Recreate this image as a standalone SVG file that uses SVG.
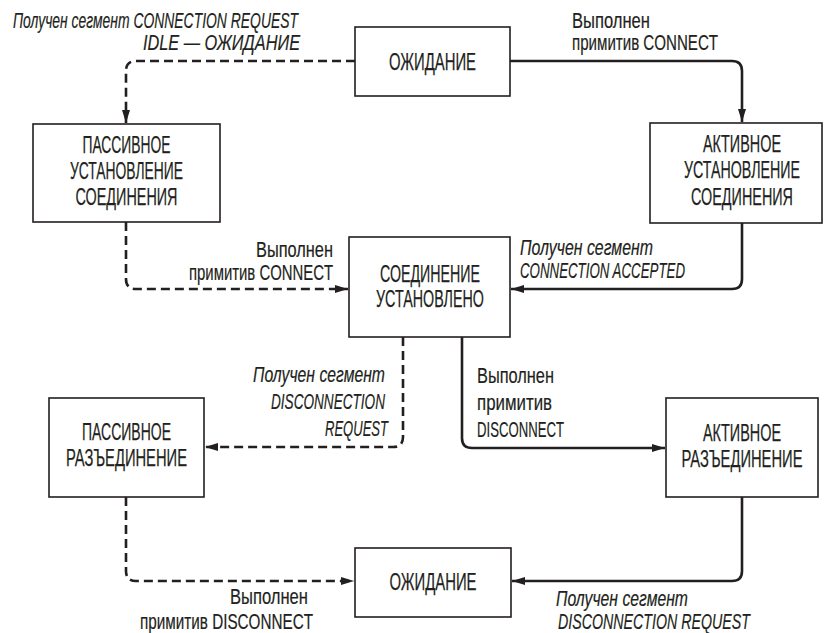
<svg xmlns="http://www.w3.org/2000/svg" width="830" height="633" viewBox="0 0 830 633">
<style>
  .box { fill: #ffffff; stroke: #231f20; stroke-width: 1.6; }
  .nt { font-family: "Liberation Sans", Arial, sans-serif; font-size: 24px; fill: #231f20; stroke: #231f20; stroke-width: 0.25; text-anchor: middle; }
  .lt { font-family: "Liberation Sans", Arial, sans-serif; font-size: 22px; fill: #231f20; stroke: #231f20; stroke-width: 0.2; }
  .it { font-style: italic; }
  .edge { fill: none; stroke: #231f20; stroke-width: 2.6; marker-end: url(#arr); }
  .dash { stroke-dasharray: 9 5; }
</style>
<defs>
  <marker id="arr" markerUnits="userSpaceOnUse" markerWidth="14" markerHeight="10" refX="13" refY="5" orient="auto">
    <path d="M0,1 L13,5 L0,9 Z" fill="#231f20"/>
  </marker>
</defs>
<rect width="830" height="633" fill="#ffffff"/>

<g id="connectors">
  <path class="edge dash" d="M355,61 H136 Q126,61 126,71 V123"/>
  <path class="edge" d="M510,61 H732 Q742,61 742,71 V122"/>
  <path class="edge dash" d="M126,222 V279 Q126,289 136,289 H348"/>
  <path class="edge" d="M742,223 V279 Q742,289 732,289 H511"/>
  <path class="edge dash" d="M403,337 V437 Q403,447 393,447 H205"/>
  <path class="edge" d="M462,337 V438 Q462,448 472,448 H665"/>
  <path class="edge dash" d="M126,497 V571 Q126,581 136,581 H354"/>
  <path class="edge" d="M742,497 V571 Q742,581 732,581 H512"/>
</g>

<g id="edge-labels">
  <text class="lt it" x="13" y="28" textLength="285" lengthAdjust="spacingAndGlyphs">Получен сегмент CONNECTION REQUEST</text>
  <text class="lt it" x="143" y="50" textLength="157" lengthAdjust="spacingAndGlyphs">IDLE — ОЖИДАНИЕ</text>

  <text class="lt" x="572" y="28" textLength="78" lengthAdjust="spacingAndGlyphs">Выполнен</text>
  <text class="lt" x="572" y="50" textLength="146" lengthAdjust="spacingAndGlyphs">примитив CONNECT</text>

  <text class="lt" x="256" y="257" textLength="77" lengthAdjust="spacingAndGlyphs">Выполнен</text>
  <text class="lt" x="189" y="280" textLength="144" lengthAdjust="spacingAndGlyphs">примитив CONNECT</text>

  <text class="lt it" x="520" y="255" textLength="133" lengthAdjust="spacingAndGlyphs">Получен сегмент</text>
  <text class="lt it" x="520" y="278" textLength="165" lengthAdjust="spacingAndGlyphs">CONNECTION ACCEPTED</text>

  <text class="lt it" x="253" y="382" textLength="132" lengthAdjust="spacingAndGlyphs">Получен сегмент</text>
  <text class="lt it" x="271" y="409" textLength="114" lengthAdjust="spacingAndGlyphs">DISCONNECTION</text>
  <text class="lt it" x="325" y="436" textLength="63" lengthAdjust="spacingAndGlyphs">REQUEST</text>

  <text class="lt" x="477" y="383" textLength="77" lengthAdjust="spacingAndGlyphs">Выполнен</text>
  <text class="lt" x="477" y="410" textLength="75" lengthAdjust="spacingAndGlyphs">примитив</text>
  <text class="lt" x="477" y="437" textLength="87" lengthAdjust="spacingAndGlyphs">DISCONNECT</text>

  <text class="lt" x="230" y="604" textLength="78" lengthAdjust="spacingAndGlyphs">Выполнен</text>
  <text class="lt" x="140" y="629" textLength="173" lengthAdjust="spacingAndGlyphs">примитив DISCONNECT</text>

  <text class="lt it" x="556" y="606" textLength="132" lengthAdjust="spacingAndGlyphs">Получен сегмент</text>
  <text class="lt it" x="558" y="629" textLength="192" lengthAdjust="spacingAndGlyphs">DISCONNECTION REQUEST</text>
</g>

<g id="idle-top">
  <rect class="box" x="355" y="27" width="155" height="69"/>
  <text class="nt" x="432.5" y="70" textLength="87" lengthAdjust="spacingAndGlyphs">ОЖИДАНИЕ</text>
</g>

<g id="passive-establish">
  <rect class="box" x="33" y="124" width="187" height="98"/>
  <text class="nt" x="126.5" y="153" textLength="88" lengthAdjust="spacingAndGlyphs">ПАССИВНОЕ</text>
  <text class="nt" x="126.5" y="179" textLength="113" lengthAdjust="spacingAndGlyphs">УСТАНОВЛЕНИЕ</text>
  <text class="nt" x="126.5" y="205" textLength="102" lengthAdjust="spacingAndGlyphs">СОЕДИНЕНИЯ</text>
</g>

<g id="active-establish">
  <rect class="box" x="650" y="123" width="172" height="100"/>
  <text class="nt" x="742" y="152" textLength="78" lengthAdjust="spacingAndGlyphs">АКТИВНОЕ</text>
  <text class="nt" x="742" y="178" textLength="116" lengthAdjust="spacingAndGlyphs">УСТАНОВЛЕНИЕ</text>
  <text class="nt" x="742" y="205" textLength="102" lengthAdjust="spacingAndGlyphs">СОЕДИНЕНИЯ</text>
</g>

<g id="established">
  <rect class="box" x="349" y="237" width="161" height="100"/>
  <text class="nt" x="430" y="282" textLength="100" lengthAdjust="spacingAndGlyphs">СОЕДИНЕНИЕ</text>
  <text class="nt" x="430" y="307" textLength="108" lengthAdjust="spacingAndGlyphs">УСТАНОВЛЕНО</text>
</g>

<g id="passive-disconnect">
  <rect class="box" x="49" y="398" width="155" height="99"/>
  <text class="nt" x="126.5" y="440" textLength="89" lengthAdjust="spacingAndGlyphs">ПАССИВНОЕ</text>
  <text class="nt" x="126.5" y="466" textLength="121" lengthAdjust="spacingAndGlyphs">РАЗЪЕДИНЕНИЕ</text>
</g>

<g id="active-disconnect">
  <rect class="box" x="666" y="398" width="152" height="99"/>
  <text class="nt" x="742" y="441" textLength="78" lengthAdjust="spacingAndGlyphs">АКТИВНОЕ</text>
  <text class="nt" x="742" y="467" textLength="121" lengthAdjust="spacingAndGlyphs">РАЗЪЕДИНЕНИЕ</text>
</g>

<g id="idle-bottom">
  <rect class="box" x="355" y="548" width="156" height="69"/>
  <text class="nt" x="433" y="590" textLength="87" lengthAdjust="spacingAndGlyphs">ОЖИДАНИЕ</text>
</g>
</svg>
